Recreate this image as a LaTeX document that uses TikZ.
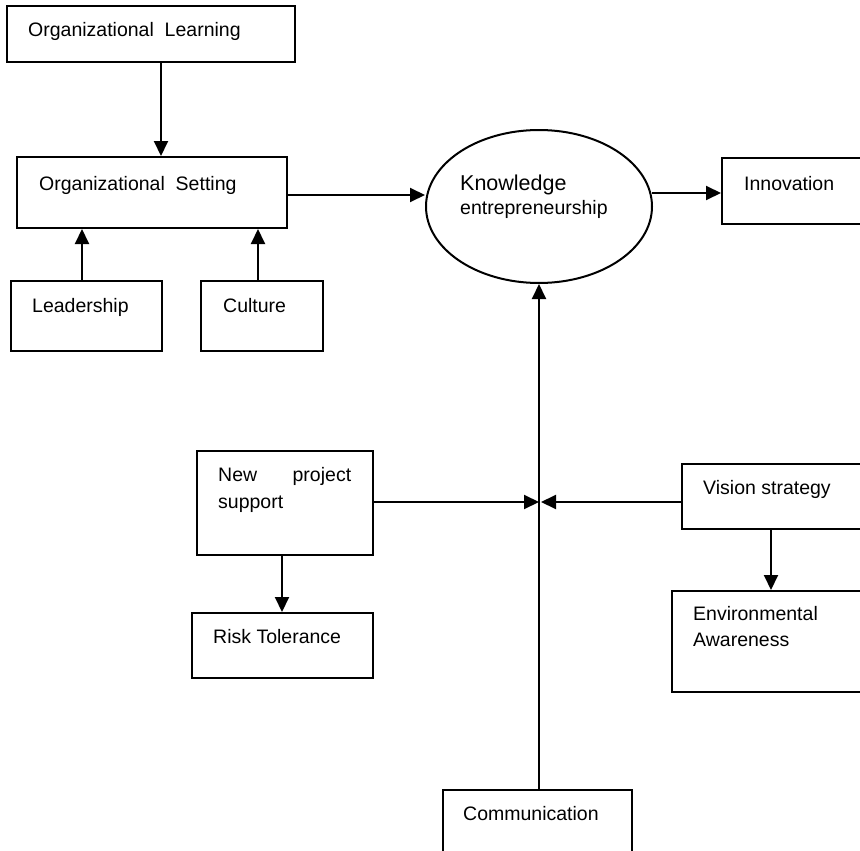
\documentclass[tikz,border=0pt]{standalone}
\usepackage{fontspec}
\setmainfont{Liberation Sans}
\usetikzlibrary{arrows.meta,shapes.geometric}
\begin{document}
\begin{tikzpicture}[x=1pt,y=-1pt,
  box/.style={draw,line width=2pt,rectangle,inner sep=0pt,minimum width=#1},
  oval/.style={draw,line width=2pt,ellipse,inner sep=0pt},
  lbl/.style={anchor=base west,inner sep=0pt,font=\fontsize{19.5}{23}\selectfont},
  arr/.style={line width=2pt,-{Triangle[length=15pt,width=14pt]}}]
\useasboundingbox (0,0) rectangle (860,851);
\clip (0,0) rectangle (860,851);
% boxes
\node[box=288pt,minimum height=56pt] (ol) at (151,34) {};
\node[box=270pt,minimum height=71pt] (os) at (152,192.5) {};
\node[box=151pt,minimum height=70pt] (lead) at (86.5,316) {};
\node[box=122pt,minimum height=70pt] (cult) at (262,316) {};
\node[oval,minimum width=226pt,minimum height=153pt] (ke) at (539,206.5) {};
\node[box=178pt,minimum height=66pt] (inn) at (811,191) {};
\node[box=176pt,minimum height=104pt] (nps) at (285,503) {};
\node[box=181pt,minimum height=65pt] (risk) at (282.5,645.5) {};
\node[box=218pt,minimum height=65pt] (vis) at (791,496.5) {};
\node[box=228pt,minimum height=101pt] (env) at (786,641.5) {};
\node[box=189pt,minimum height=110pt] (comm) at (537.5,845) {};
% texts
\node[lbl] (tol) at (28,37) {Organizational\ \ Learning};
\node[lbl] (tos) at (39,190) {Organizational\ \ Setting};
\node[lbl] (tlead) at (32,312) {Leadership};
\node[lbl] (tcult) at (223,312) {Culture};
\node[lbl,font=\fontsize{21.5}{25}\selectfont] (tke1) at (460,190) {Knowledge};
\node[lbl] (tke2) at (460,214) {entrepreneurship};
\node[lbl] (tinn) at (744,190) {Innovation};
\node[lbl] (tnps1) at (218,481) {\makebox[133pt][s]{New\hfill project}};
\node[lbl] (tnps2) at (218,508) {support};
\node[lbl] (trisk) at (213,643) {Risk Tolerance};
\node[lbl] (tvis) at (703,494) {Vision strategy};
\node[lbl] (tenv1) at (693,620) {Environmental};
\node[lbl] (tenv2) at (693,646) {Awareness};
\node[lbl] (tcomm) at (463,820) {Communication};
% connectors
\coordinate (j) at (539,502);
\coordinate (osout) at (287,195);
\coordinate (keout) at (652,193);
\draw[arr] ([xshift=10pt]ol.south) -- ([xshift=10pt]ol.south |- os.north);
\draw[arr] ([xshift=-4.5pt]lead.north) -- ([xshift=-4.5pt]lead.north |- os.south);
\draw[arr] ([xshift=-4pt]cult.north) -- ([xshift=-4pt]cult.north |- os.south);
\draw[arr] (osout) -- (osout -| ke.west);
\draw[arr] (keout) -- (keout -| inn.west);
\draw[arr] (comm.north -| ke.south) -- (ke.south);
\draw[arr] (nps.east |- j) -- (j);
\draw[arr] (vis.west |- j) -- ([xshift=2pt]j);
\draw[arr] ([xshift=-3pt]nps.south) -- ([xshift=-3pt]nps.south |- risk.north);
\draw[arr] ([xshift=-20pt]vis.south) -- ([xshift=-20pt]vis.south |- env.north);
\end{tikzpicture}
\end{document}
